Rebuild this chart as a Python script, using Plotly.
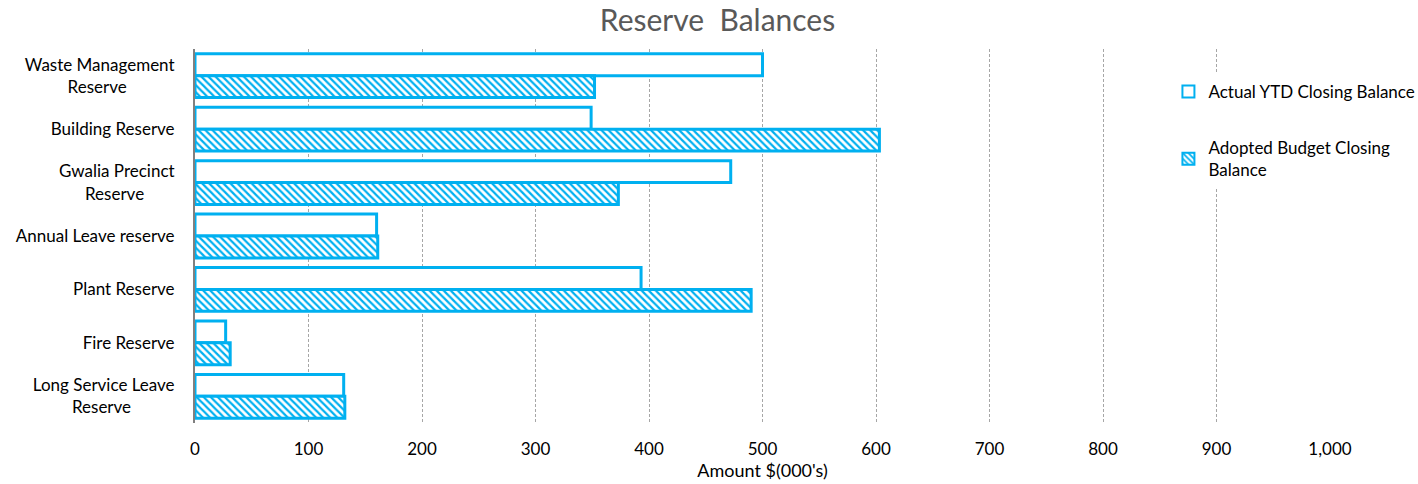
import plotly.graph_objects as go

NB = "\u00a0"

categories = [
    "Waste Management<br>Reserve" + NB * 11,
    "Building Reserve",
    "Gwalia Precinct<br>Reserve" + NB * 7,
    "Annual Leave reserve",
    "Plant Reserve",
    "Fire Reserve",
    "Long Service Leave<br>Reserve" + NB * 10,
]
actual_ytd = [500, 349, 472, 160, 393, 27, 131]
adopted_budget = [352, 603, 373, 161, 490, 31, 132]
x_ticks = [0, 100, 200, 300, 400, 500, 600, 700, 800, 900, 1000]
x_tick_labels = ["0", "100", "200", "300", "400", "500", "600", "700", "800", "900", "1,000"]

BLUE = "#00B0F0"
FONT = "Lato, 'Open Sans', sans-serif"

fig = go.Figure()
fig.add_trace(go.Bar(
    y=categories, x=actual_ytd, orientation="h",
    name="Actual YTD Closing Balance", legendgroup="a",
    marker=dict(color="white", line=dict(color=BLUE, width=3)),
))
fig.add_trace(go.Bar(
    y=categories, x=adopted_budget, orientation="h",
    name="Adopted Budget Closing<br>Balance", legendgroup="b",
    marker=dict(color="white", line=dict(color=BLUE, width=3),
                pattern=dict(shape="\\", fgcolor=BLUE, bgcolor="white",
                             size=5, solidity=0.45, fillmode="replace")),
))

fig.update_layout(
    width=1418, height=484,
    margin=dict(l=195, r=88, t=49, b=61, autoexpand=False),
    paper_bgcolor="white", plot_bgcolor="white",
    barmode="group", bargap=0.18, bargroupgap=0.0,
    font=dict(family=FONT, size=17, color="#000000"),
    title=dict(text="Reserve\u00a0\u00a0Balances", x=0.506, xref="container",
               xanchor="center", y=0.958, yanchor="middle",
               font=dict(family=FONT, size=30, color="#595959")),
    legend=dict(x=0.824, y=0.847, xref="container", yref="container",
                xanchor="left", yanchor="top",
                bgcolor="white", traceorder="grouped", tracegroupgap=31,
                font=dict(family=FONT, size=17, color="#000000"),
                itemsizing="constant", itemwidth=30),
    showlegend=True,
)
fig.update_xaxes(
    range=[0, 1000], tickvals=x_ticks, ticktext=x_tick_labels,
    showgrid=True, gridcolor="#A6A6A6", griddash="3px,2px", gridwidth=1,
    zeroline=False, showline=False, ticks="", ticklabelstandoff=14,
    title=dict(text="Amount $(000's)", font=dict(family=FONT, size=18, color="#000000"),
               standoff=4),
    tickfont=dict(family=FONT, size=17, color="#000000"),
)
fig.update_yaxes(
    autorange="reversed", showgrid=False, zeroline=False,
    showline=True, linecolor="#808080", linewidth=2, ticks="",
    ticklabelstandoff=15,
    tickfont=dict(family=FONT, size=17, color="#000000"),
)

fig.write_html("out.html")
